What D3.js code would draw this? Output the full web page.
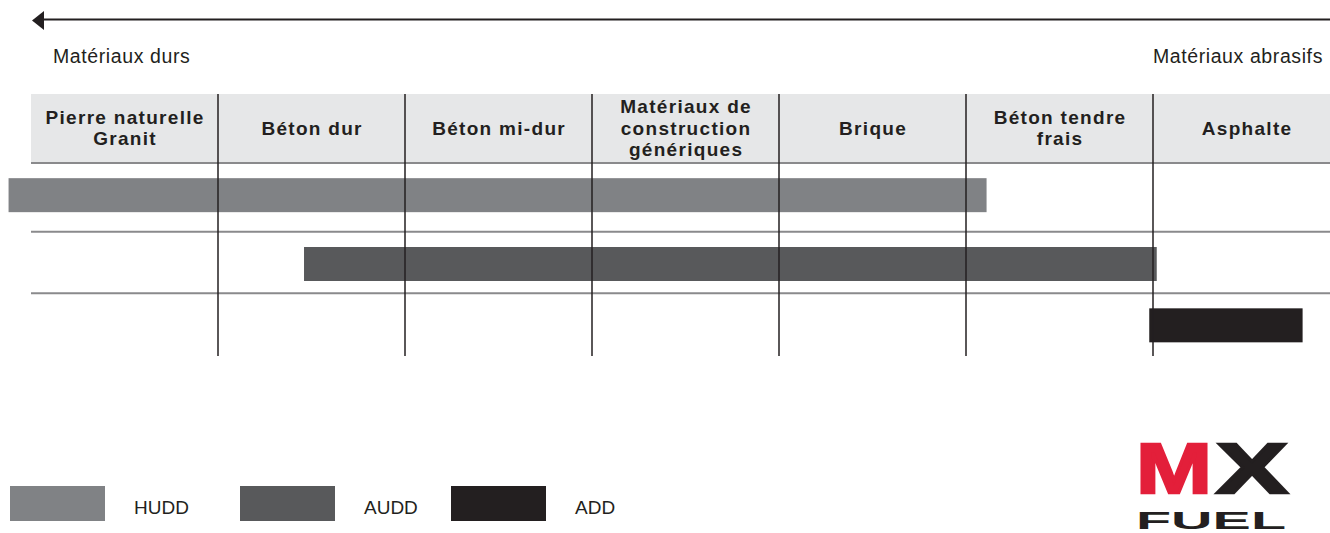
<!DOCTYPE html>
<html>
<head>
<meta charset="utf-8">
<script src="https://cdn.jsdelivr.net/npm/d3@7"></script>
<style>
  body { margin: 0; background: #fff; }
  text { font-family: "Liberation Sans", Arial, sans-serif; fill: #231f20; }
  .head { font-weight: bold; font-size: 19px; letter-spacing: 1.3px; }
  .side { font-size: 19.5px; letter-spacing: 0.6px; }
  .leg { font-size: 19px; }
</style>
</head>
<body>
<script>
// materials, left (hard) to right (abrasive)
var categories = [
  ["Pierre naturelle", "Granit"],
  ["Béton dur"],
  ["Béton mi-dur"],
  ["Matériaux de", "construction", "génériques"],
  ["Brique"],
  ["Béton tendre", "frais"],
  ["Asphalte"]
];
// blade series and the span they cover, in column units (0 = left edge of first column)
var series = ["HUDD", "AUDD", "ADD"];
var spanStart = [-0.12, 1.46, 5.98];
var spanEnd = [5.11, 6.02, 6.80];
var colors = ["#808285", "#58595b", "#231f20"];
var sideLabels = ["Matériaux durs", "Matériaux abrasifs"];

var W = 1330, H = 533;
var svg = d3.select("body").append("svg")
    .attr("width", W).attr("height", H);

// scales
var x = d3.scaleLinear().domain([0, categories.length]).range([31, 31 + 187 * categories.length]);
var y = d3.scaleBand().domain(series).range([163, 356]);
var legX = d3.scaleOrdinal().domain(series).range([10, 240, 451]);
var barH = 34;
var rowShift = [0, 4.5, 1.5]; // rows in the print are not quite even

//arrow at the top
svg.append("line").attr("x1", 40).attr("x2", W).attr("y1", 19.5).attr("y2", 19.5)
    .attr("stroke", "#231f20").attr("stroke-width", 2);
svg.append("path").attr("d", "M32,20.5L44,11L44,30Z").attr("fill", "#231f20");

svg.append("text").classed("side", true).attr("x", 53).attr("y", 63).text(sideLabels[0]);
svg.append("text").classed("side", true).attr("x", 1323).attr("y", 63)
    .attr("text-anchor", "end").text(sideLabels[1]);

//header band
svg.append("rect").attr("x", 31).attr("y", 94).attr("width", W - 31).attr("height", 69)
    .attr("fill", "#e6e7e8");

var heads = svg.selectAll("g.headCell").data(categories).enter()
    .append("g").classed("headCell", true);
heads.each(function(lines, i) {
    var g = d3.select(this);
    var cx = x(i + 0.5);
    var lh = 21.5;
    var top = 128 - (lines.length - 1) * lh / 2 + 6.5;
    lines.forEach(function(l, j) {
        g.append("text").classed("head", true)
            .attr("x", cx + 0.6).attr("y", top + j * lh)
            .attr("text-anchor", "middle").text(l);
    });
});

// horizontal rules: header bottom + between rows
svg.selectAll("line.rule").data(series).enter().append("line").classed("rule", true)
    .attr("x1", 31).attr("x2", W)
    .attr("y1", function(d, i) { return y(d) + rowShift[i]; })
    .attr("y2", function(d, i) { return y(d) + rowShift[i]; })
    .attr("stroke", "#8a8a8c").attr("stroke-width", 2);

//bars
svg.selectAll("rect.bar").data(series).enter().append("rect").classed("bar", true)
    .attr("x", function(d, i) { return x(spanStart[i]); })
    .attr("width", function(d, i) { return x(spanEnd[i]) - x(spanStart[i]); })
    .attr("y", function(d, i) { return y(d) + y.bandwidth() / 2 - barH / 2 + rowShift[i]; })
    .attr("height", barH)
    .attr("fill", function(d, i) { return colors[i]; });

// column dividers, drawn over the bars
svg.selectAll("line.div").data(d3.range(1, categories.length)).enter()
    .append("line").classed("div", true)
    .attr("x1", function(d) { return x(d); }).attr("x2", function(d) { return x(d); })
    .attr("y1", 94).attr("y2", 356)
    .attr("stroke", "#231f20").attr("stroke-width", 1.5);

//legend
var leg = svg.selectAll("g.leg").data(series).enter().append("g")
    .attr("transform", function(d) { return "translate(" + legX(d) + ",486)"; });
leg.append("rect").attr("width", 95).attr("height", 35)
    .attr("fill", function(d, i) { return colors[i]; });
leg.append("text").classed("leg", true).attr("x", 124).attr("y", 28).text(function(d) { return d; });

//MX FUEL logo
var logo = svg.append("g");
logo.append("text").attr("x", 1136).attr("y", 493)
    .attr("textLength", 76).attr("lengthAdjust", "spacingAndGlyphs")
    .style("font-size", "71px").style("font-weight", "bold")
    .style("fill", "#e31f3a").style("stroke", "#e31f3a").style("stroke-width", 2.5)
    .text("M");
logo.append("text").attr("x", 1216).attr("y", 493)
    .attr("textLength", 72).attr("lengthAdjust", "spacingAndGlyphs")
    .style("font-size", "71px").style("font-weight", "bold")
    .style("stroke", "#231f20").style("stroke-width", 2.5)
    .text("X");
logo.append("text").attr("x", 1136).attr("y", 529)
    .attr("textLength", 150).attr("lengthAdjust", "spacingAndGlyphs")
    .style("font-size", "23px").style("font-weight", "bold")
    .text("FUEL");
</script>
</body>
</html>
